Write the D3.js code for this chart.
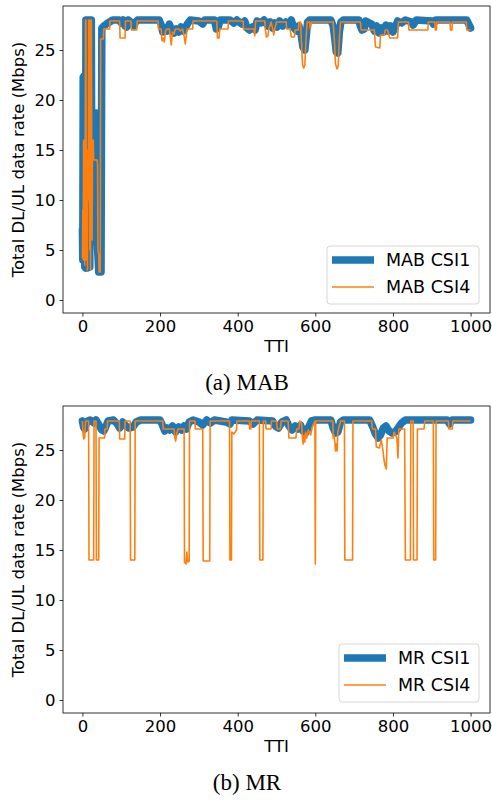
<!DOCTYPE html>
<html>
<head>
<meta charset="utf-8">
<script src="https://cdn.jsdelivr.net/npm/d3@7"></script>
<style>
  body { margin: 0; background: #fff; }
  svg { display: block; }
</style>
</head>
<body>
<svg id="chart" width="492" height="801"></svg>
<script>
// Tick values shared by both panels
const xTicks = [0, 200, 400, 600, 800, 1000];
const yTicks = [0, 5, 10, 15, 20, 25];

// (a) MAB CSI1 : [TTI, Mbps] breakpoints
const mabCsi1 = [
  [0, 7.0], [1, 4.0], [2, 22.3], [4, 22.4], [5, 14.0], [6, 3.3], [8, 3.2], [9, 28.0], [11, 28.0],
  [12, 16.0], [13, 3.2], [14, 9.0], [15, 28.0], [17, 28.0], [18, 20.0], [19, 3.3], [20, 13.5],
  [21, 28.0], [23, 28.0], [24, 14.0], [25, 9.0], [26, 14.5], [27, 18.0], [28, 13.5], [30, 13.5],
  [33, 18.7], [35, 18.7], [36, 12.0], [38, 6.0], [40, 4.5], [42, 2.8], [48, 2.8], [50, 27.2],
  [55, 27.4], [62, 27.6], [70, 27.8], [78, 28.0], [95, 28.0], [100, 27.7], [105, 28.0], [110, 27.4],
  [114, 27.3], [118, 28.0], [128, 27.7], [133, 27.4], [137, 27.8], [142, 28.0], [198, 28.0],
  [203, 27.5], [207, 26.8], [212, 27.2], [218, 26.9], [224, 27.6], [230, 27.0], [236, 26.7],
  [242, 27.1], [248, 26.8], [254, 27.3], [260, 26.9], [266, 27.3], [272, 27.7], [278, 28.0],
  [300, 27.9], [310, 27.6], [315, 28.0], [340, 28.0], [345, 27.1], [350, 27.3], [355, 28.0],
  [380, 28.0], [390, 27.7], [398, 28.0], [410, 27.6], [418, 27.9], [424, 27.2], [430, 27.0],
  [438, 27.3], [445, 27.0], [450, 27.9], [460, 27.7], [468, 28.0], [478, 27.4], [484, 27.8],
  [490, 27.2], [496, 27.7], [502, 27.3], [508, 27.9], [516, 27.4], [524, 27.8], [530, 27.5],
  [538, 28.0], [545, 27.2], [552, 26.9], [558, 27.4], [564, 26.4], [568, 25.3], [573, 25.0],
  [577, 26.5], [580, 27.8], [585, 28.0], [640, 28.0], [646, 27.4], [650, 26.2], [654, 24.8],
  [658, 24.7], [662, 26.8], [666, 27.8], [672, 28.0], [712, 28.0], [716, 27.4], [720, 27.0],
  [726, 27.1], [730, 27.9], [745, 27.6], [752, 26.9], [758, 27.4], [764, 26.7], [770, 27.2],
  [776, 26.8], [782, 27.5], [788, 26.9], [794, 27.4], [800, 26.8], [806, 27.3], [812, 27.9],
  [822, 27.7], [832, 28.0], [848, 27.8], [852, 27.5], [860, 28.0], [900, 27.9], [904, 27.6],
  [910, 28.0], [990, 28.0], [1000, 27.2]
];

// (a) MAB CSI4
const mabCsi4 = [
  [0, 4.2], [1, 9.0], [2, 4.0], [3, 16.0], [4, 5.0], [5, 14.0], [6, 3.5], [7, 12.0], [8, 28.0],
  [9, 28.0], [10, 4.0], [11, 15.0], [12, 9.0], [13, 3.0], [14, 14.0], [15, 10.0], [16, 28.0],
  [18, 28.0], [19, 5.0], [20, 14.0], [21, 3.0], [22, 28.0], [23, 28.0], [24, 13.0], [25, 6.0],
  [26, 14.5], [27, 14.0], [28, 16.0], [29, 14.0], [38, 14.0], [39, 13.5], [40, 5.0], [42, 4.5],
  [43, 2.8], [46, 2.8], [47, 26.1], [54, 26.1], [55, 27.1], [70, 27.1], [71, 27.9], [96, 27.9],
  [97, 26.2], [110, 26.2], [111, 27.9], [125, 27.9], [126, 27.0], [140, 27.0], [141, 27.9],
  [195, 27.9], [196, 27.1], [203, 27.1], [205, 25.9], [208, 26.2], [211, 25.8], [214, 26.9],
  [218, 27.1], [224, 27.1], [226, 26.4], [229, 25.5], [232, 26.8], [236, 26.6], [239, 27.1],
  [248, 27.1], [252, 26.9], [258, 27.1], [262, 26.4], [265, 25.6], [268, 26.6], [270, 27.1],
  [284, 27.1], [285, 27.9], [346, 27.9], [348, 26.2], [352, 26.2], [354, 27.1], [375, 27.1],
  [376, 27.9], [414, 27.9], [415, 27.1], [442, 27.1], [444, 26.4], [446, 27.9], [470, 27.9],
  [471, 27.1], [474, 26.3], [478, 26.4], [480, 27.1], [486, 27.8], [490, 27.1], [493, 26.5],
  [495, 27.1], [500, 27.8], [525, 27.8], [526, 27.1], [535, 27.1], [538, 26.3], [546, 26.3],
  [548, 27.0], [556, 27.0], [558, 27.8], [562, 27.8], [564, 26.0], [567, 23.6], [570, 23.2],
  [573, 23.5], [576, 26.0], [579, 27.8], [585, 27.8], [587, 27.1], [590, 27.8], [646, 27.8],
  [649, 26.0], [652, 23.6], [656, 23.1], [659, 23.4], [662, 26.2], [665, 27.8], [716, 27.8],
  [718, 27.0], [752, 27.0], [755, 25.3], [766, 25.2], [768, 26.5], [778, 26.5], [780, 27.0],
  [786, 27.0], [788, 26.7], [792, 26.2], [812, 26.2], [814, 27.8], [840, 27.8], [841, 27.0],
  [890, 27.0], [891, 27.8], [908, 27.8], [909, 27.0], [912, 27.0], [913, 27.8], [947, 27.8],
  [948, 27.0], [952, 27.0], [953, 27.8], [989, 27.8], [990, 27.0], [1000, 27.0]
];

// (b) MR CSI1
const mrCsi1 = [
  [0, 27.9], [3, 27.3], [6, 27.1], [10, 27.6], [14, 27.9], [20, 28.0], [30, 27.7], [35, 28.0],
  [44, 27.4], [50, 27.0], [55, 26.9], [60, 27.3], [66, 27.9], [80, 28.0], [90, 27.6], [96, 27.2],
  [104, 27.8], [112, 27.4], [120, 27.2], [130, 27.3], [139, 27.8], [150, 28.0], [200, 28.0],
  [206, 27.5], [212, 26.9], [218, 27.2], [224, 27.0], [232, 27.4], [240, 26.8], [248, 27.3],
  [256, 27.0], [262, 27.4], [268, 27.1], [275, 27.8], [285, 28.0], [300, 27.8], [310, 27.5],
  [320, 28.0], [330, 27.7], [340, 28.0], [370, 27.8], [380, 27.6], [385, 28.0], [430, 27.9],
  [440, 27.6], [450, 28.0], [490, 27.9], [497, 27.4], [505, 27.2], [514, 27.8], [525, 28.0],
  [532, 27.4], [540, 27.0], [548, 27.4], [555, 27.1], [562, 27.5], [568, 26.9], [575, 26.7],
  [583, 27.3], [590, 27.9], [600, 28.0], [640, 28.0], [646, 27.2], [652, 26.7], [658, 26.8],
  [665, 27.8], [672, 28.0], [740, 28.0], [748, 27.3], [755, 26.6], [762, 26.2], [768, 26.5],
  [775, 27.2], [782, 27.4], [790, 26.9], [798, 26.7], [806, 26.8], [815, 27.3], [822, 27.7],
  [832, 28.0], [940, 28.0], [946, 27.6], [952, 28.0], [1000, 28.0]
];

// (b) MR CSI4
const mrCsi4 = [
  [0, 27.9], [2, 26.5], [4, 26.1], [6, 26.3], [8, 27.9], [16, 27.9], [17, 14.0], [29, 14.0],
  [30, 27.9], [35, 27.9], [36, 14.0], [42, 14.0], [43, 26.2], [57, 26.2], [58, 27.1], [64, 27.1],
  [65, 27.9], [95, 27.9], [96, 26.1], [109, 26.1], [110, 27.9], [123, 27.9], [124, 14.0],
  [135, 14.0], [136, 27.9], [207, 27.9], [208, 27.1], [236, 27.1], [238, 26.3], [240, 25.9],
  [243, 26.6], [246, 27.1], [262, 27.1], [263, 13.8], [267, 13.6], [269, 14.8], [271, 13.8],
  [275, 13.9], [276, 27.9], [290, 27.9], [291, 27.1], [310, 27.1], [311, 13.9], [328, 13.9],
  [329, 27.9], [379, 27.9], [380, 14.0], [384, 14.0], [385, 26.8], [390, 26.6], [397, 27.0],
  [398, 27.9], [430, 27.9], [431, 27.1], [434, 27.1], [435, 27.9], [456, 27.9], [457, 14.0],
  [465, 14.0], [466, 27.9], [472, 27.9], [473, 27.1], [486, 27.1], [487, 27.9], [500, 27.9],
  [502, 27.1], [510, 27.1], [512, 27.9], [530, 27.9], [532, 26.2], [550, 26.2], [552, 27.1],
  [558, 27.1], [560, 27.9], [565, 27.6], [567, 26.0], [569, 25.6], [571, 26.5], [573, 25.8],
  [575, 26.8], [578, 26.2], [582, 27.0], [588, 26.5], [592, 27.3], [599, 27.9], [600, 13.6],
  [601, 27.9], [645, 27.9], [646, 26.2], [648, 26.5], [650, 25.9], [652, 24.9], [654, 25.6],
  [656, 24.9], [658, 26.8], [660, 27.1], [665, 27.9], [675, 27.9], [676, 14.0], [696, 14.0],
  [697, 27.9], [745, 27.9], [747, 27.1], [755, 27.1], [757, 25.3], [765, 25.2], [770, 26.0],
  [774, 25.0], [777, 24.0], [780, 23.4], [783, 23.1], [785, 26.2], [800, 26.2], [803, 26.8],
  [810, 26.2], [813, 24.2], [815, 27.1], [830, 27.1], [832, 14.0], [845, 14.0], [846, 27.9],
  [852, 27.9], [853, 14.0], [862, 14.0], [863, 27.1], [880, 27.1], [882, 27.9], [904, 27.9],
  [905, 14.0], [910, 14.0], [911, 27.9], [943, 27.9], [944, 27.1], [953, 27.1], [954, 27.9],
  [1000, 27.9]
];

const blue = '#1f77b4';
const orange = '#ff7f0e';
const svg = d3.select('#chart');

// Draw one panel; top is the y of the plot frame
function drawPanel(top, series, names, caption, legendBox) {
  const left = 63, right = 490, height = 307;

  const x = d3.scaleLinear().domain([-50, 1050]).range([left, right]);
  const y = d3.scaleLinear().domain([-1.3, 29.4]).range([top + height, top]);

  const g = svg.append('g');

  // Lines
  const line = d3.line().x(d => x(d[0])).y(d => y(d[1]));
  g.append('path').datum(series[0])
    .attr('d', line).attr('fill', 'none')
    .attr('stroke', blue).attr('stroke-width', 7.5)
    .attr('stroke-linejoin', 'round').attr('stroke-linecap', 'round');
  g.append('path').datum(series[1])
    .attr('d', line).attr('fill', 'none')
    .attr('stroke', orange).attr('stroke-width', 1.6)
    .attr('stroke-linejoin', 'round');

  // Axes
  const xAxis = g.append('g')
    .attr('transform', `translate(0,${top + height})`)
    .call(d3.axisBottom(x).tickValues(xTicks).tickFormat(d3.format('d')).tickSize(3.5).tickPadding(4));
  const yAxis = g.append('g')
    .attr('transform', `translate(${left},0)`)
    .call(d3.axisLeft(y).tickValues(yTicks).tickSize(3.5).tickPadding(4));
  [xAxis, yAxis].forEach(a => {
    a.select('.domain').remove();
    a.selectAll('line').attr('stroke', '#000').attr('stroke-width', 0.8);
    a.selectAll('text')
      .style('font-family', 'DejaVu Sans')
      .style('font-size', '16.5px')
      .attr('fill', '#000');
  });

  // Frame
  g.append('rect')
    .attr('x', left).attr('y', top)
    .attr('width', right - left).attr('height', height)
    .attr('fill', 'none').attr('stroke', '#000').attr('stroke-width', 0.8);

  // Axis titles
  g.append('text')
    .attr('transform', `translate(24,${top + height / 2}) rotate(-90)`)
    .attr('text-anchor', 'middle')
    .style('font-family', 'DejaVu Sans').style('font-size', '16.5px')
    .text('Total DL/UL data rate (Mbps)');
  g.append('text')
    .attr('x', (left + right) / 2).attr('y', top + height + 39)
    .attr('text-anchor', 'middle')
    .style('font-family', 'DejaVu Sans').style('font-size', '16.5px')
    .text('TTI');

  // Legend
  const lg = g.append('g');
  lg.append('rect')
    .attr('x', legendBox.x).attr('y', legendBox.y)
    .attr('width', 479 - legendBox.x).attr('height', 58)
    .attr('rx', 3)
    .attr('fill', '#fff').attr('fill-opacity', 0.8)
    .attr('stroke', '#ccc').attr('stroke-width', 0.8);
  names.forEach((name, i) => {
    const ly = legendBox.y + 14 + i * 27;
    lg.append('line')
      .attr('x1', legendBox.x + 5).attr('x2', legendBox.x + 47)
      .attr('y1', ly).attr('y2', ly)
      .attr('stroke', i === 0 ? blue : orange)
      .attr('stroke-width', i === 0 ? 7.5 : 1.6);
    lg.append('text')
      .attr('x', legendBox.x + 59).attr('y', ly + 6)
      .style('font-family', 'DejaVu Sans').style('font-size', '17.5px')
      .text(name);
  });

  // Caption
  svg.append('text')
    .attr('x', 247).attr('y', top + height + 77)
    .attr('text-anchor', 'middle')
    .style('font-family', 'Liberation Serif').style('font-size', '23px')
    .text(caption);
}

drawPanel(6, [mabCsi1, mabCsi4], ['MAB CSI1', 'MAB CSI4'], '(a) MAB', { x: 327, y: 246 });
drawPanel(406, [mrCsi1, mrCsi4], ['MR CSI1', 'MR CSI4'], '(b) MR', { x: 339, y: 644 });
</script>
</body>
</html>
